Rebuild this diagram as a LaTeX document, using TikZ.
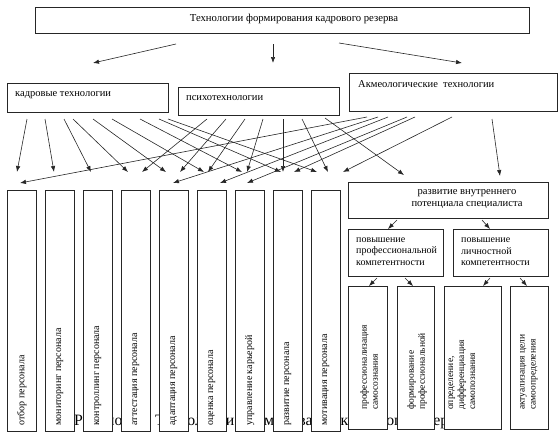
\documentclass[tikz,border=0pt]{standalone}
\usepackage{fontspec}
\setmainfont{Liberation Serif}
\usetikzlibrary{arrows.meta,calc}
\begin{document}
\begin{tikzpicture}[x=1pt,y=-1pt,
  box/.style={draw=black!85,line width=0.7pt,fill=white,inner sep=0pt,anchor=north west},
  arr/.style={draw=black!85,line width=0.6pt,-{Latex[length=6pt,width=4.5pt]}},
  txt/.style={inner sep=0pt,font=\fontsize{10.5}{12}\selectfont},
  coltxt/.style={inner sep=0pt,rotate=90,anchor=west,font=\fontsize{10}{11.5}\selectfont},
  leaftxt/.style={inner sep=0pt,rotate=90,anchor=west,align=left,font=\fontsize{9.5}{11}\selectfont}
]
\useasboundingbox (0,0) rectangle (558,439);

% caption (mostly hidden behind the boxes)
\node[anchor=base west,inner sep=0pt,font=\fontsize{15.8}{18}\selectfont] (cap) at (74,425)
  {Рисунок 1 - Технологии формирования кадрового резерва};

% top box
\node[box,minimum width=494pt,minimum height=26pt] (top) at (35,7) {};
\node[txt,font=\fontsize{10.7}{12}\selectfont] (toptxt) at (294,19) {Технологии формирования кадрового резерва};

% second level
\node[box,minimum width=161pt,minimum height=29pt] (kadr) at (7,83) {};
\node[txt,anchor=west] (kadrtxt) at (15,95) {кадровые технологии};
\node[box,minimum width=161pt,minimum height=28pt] (psy) at (178,87) {};
\node[txt,anchor=west] (psytxt) at (186,98) {психотехнологии};
\node[box,minimum width=208pt,minimum height=38pt] (akm) at (349,73) {};
\node[txt,anchor=west] (akmtxt) at (358,84) {Акмеологические\ \ технологии};

\coordinate (t1) at (176,44); \coordinate (t1e) at (93,63);
\coordinate (t2) at (273,44); \coordinate (t2e) at (273,63);
\coordinate (t3) at (339,43); \coordinate (t3e) at (462,63);
\draw[arr] (t1) -- (t1e);
\draw[arr] (t2) -- (t2e);
\draw[arr] (t3) -- (t3e);

% columns
\foreach \i/\tx in {1/отбор персонала,2/мониторинг персонала,3/контроллинг персонала,
  4/аттестация персонала,5/адаптация персонала,6/оценка персонала,
  7/управление карьерой,8/развитие персонала,9/мотивация персонала}{
  \node[box,minimum width=29pt,minimum height=241pt] (c\i) at ({7+38*(\i-1)},190) {};
  \node[coltxt] (ct\i) at ($(c\i.south)+(0,-6)$) {\tx};
}

% arrows from "кадровые технологии"
\foreach \i/\sx/\ex in {1/27/17,2/45/54,3/64/91,4/73/128,5/93/166,6/112/204,7/140/242,8/159/281,9/168/317}{
  \coordinate (ks\i) at (\sx,119);
  \coordinate (ke\i) at (\ex,172);
  \draw[arr] (ks\i) -- (ke\i);
}
% arrows from "психотехнологии"
\foreach \i/\sx/\ex in {4/207/142,5/226/180,6/245/208,7/263/247,8/283/283,9/302/328}{
  \coordinate (ps\i) at (\sx,119);
  \coordinate (pe\i) at (\ex,172);
  \draw[arr] (ps\i) -- (pe\i);
}
% arrows from "Акмеологические технологии"
\foreach \i/\sx/\ex/\ey in {1/367/20/183,5/378/173/183,6/388/220/183,7/407/247/183,8/415/294/172,9/452/343/172}{
  \coordinate (as\i) at (\sx,117);
  \coordinate (ae\i) at (\ex,\ey);
  \draw[arr] (as\i) -- (ae\i);
}

% right branch
\node[box,minimum width=200pt,minimum height=36pt] (rb) at (348,182) {};
\node[txt,align=center,font=\fontsize{10.6}{11.5}\selectfont] (rbtxt) at (467,199) {развитие внутреннего\\потенциала специалиста};

\coordinate (ar1) at (492,119); \coordinate (ar1e) at (500,176);
\coordinate (pr1) at (325,118); \coordinate (pr1e) at (404,175);
\draw[arr] (ar1) -- (ar1e);
\draw[arr] (pr1) -- (pr1e);

\node[box,minimum width=95pt,minimum height=47pt] (pb) at (348,229) {};
\node[txt,anchor=west,align=left,font=\fontsize{10}{11.5}\selectfont] (pbtxt) at (356,251.5) {повышение\\профессиональной\\компетентности};
\node[box,minimum width=95pt,minimum height=47pt] (lb) at (453,229) {};
\node[txt,anchor=west,align=left,font=\fontsize{10}{11.5}\selectfont] (lbtxt) at (461,252) {повышение\\личностной\\компетентности};

\coordinate (rp) at (397,220); \coordinate (rpe) at (388,229);
\coordinate (rl) at (482,220); \coordinate (rle) at (490,229);
\draw[arr] (rp) -- (rpe);
\draw[arr] (rl) -- (rle);

% leaves
\node[box,minimum width=39pt,minimum height=143pt] (l1) at (348,286) {};
\node[box,minimum width=37pt,minimum height=143pt] (l2) at (397,286) {};
\node[box,minimum width=57pt,minimum height=143pt] (l3) at (444,286) {};
\node[box,minimum width=38pt,minimum height=143pt] (l4) at (510,286) {};
\node[leaftxt] (lt1) at (369,410) {профессионализация\\самосознания};
\node[leaftxt] (lt2) at (417,410) {формирование\\профессиональной};
\node[leaftxt] (lt3) at (462,410) {определение,\\дифференциация\\самопознания};
\node[leaftxt] (lt4) at (529,410) {актуализация цели\\самоопределения};

\coordinate (p1) at (377,278); \coordinate (p1e) at (369,286);
\coordinate (p2) at (405,278); \coordinate (p2e) at (413,286);
\coordinate (q1) at (490,278); \coordinate (q1e) at (483,286);
\coordinate (q2) at (520,278); \coordinate (q2e) at (527,286);
\draw[arr] (p1) -- (p1e);
\draw[arr] (p2) -- (p2e);
\draw[arr] (q1) -- (q1e);
\draw[arr] (q2) -- (q2e);
\end{tikzpicture}
\end{document}
